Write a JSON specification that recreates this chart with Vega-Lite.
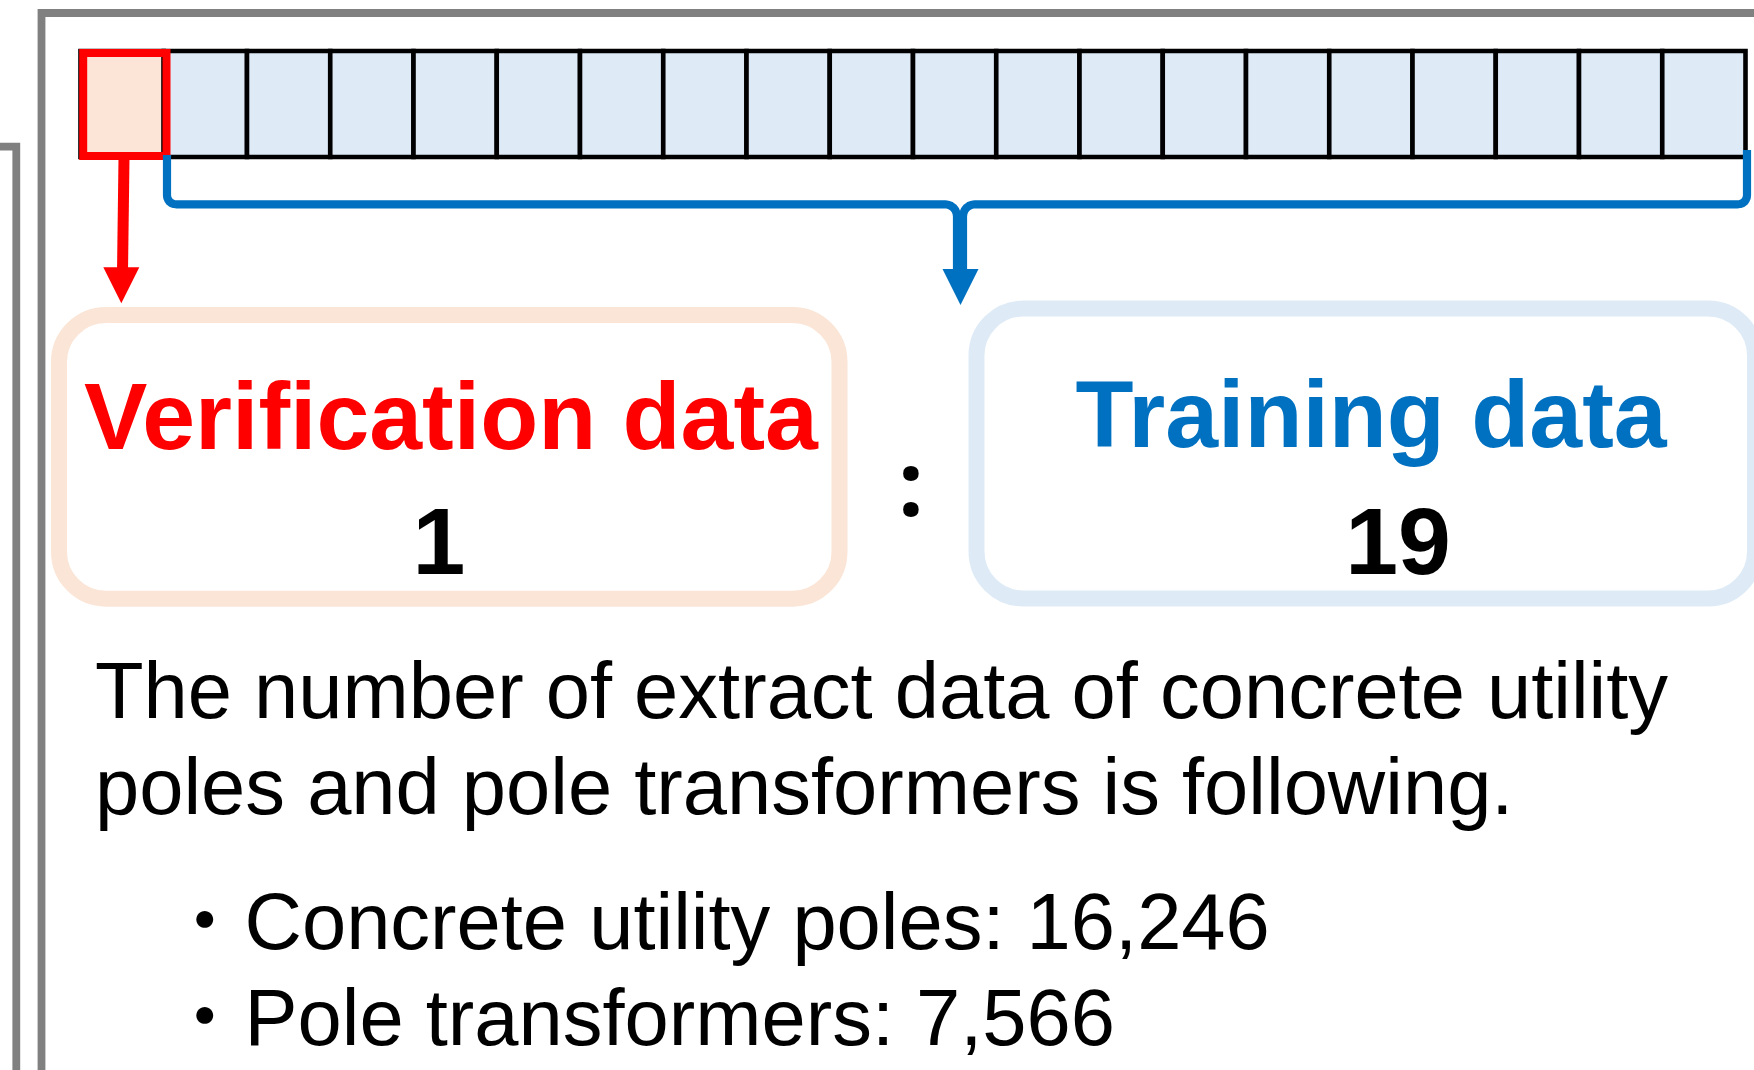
{
  "$schema": "https://vega.github.io/schema/vega-lite/v6.json",
  "width": 1754,
  "height": 1070,
  "padding": 0,
  "autosize": {"type": "none"},
  "background": "white",
  "config": {"view": {"stroke": null}},
  "resolve": {"scale": {"x": "independent"}},
  "layer": [
    {
      "data": {"values": [
        {"cell": 1, "set": "Verification"},
        {"cell": 2, "set": "Training"},
        {"cell": 3, "set": "Training"},
        {"cell": 4, "set": "Training"},
        {"cell": 5, "set": "Training"},
        {"cell": 6, "set": "Training"},
        {"cell": 7, "set": "Training"},
        {"cell": 8, "set": "Training"},
        {"cell": 9, "set": "Training"},
        {"cell": 10, "set": "Training"},
        {"cell": 11, "set": "Training"},
        {"cell": 12, "set": "Training"},
        {"cell": 13, "set": "Training"},
        {"cell": 14, "set": "Training"},
        {"cell": 15, "set": "Training"},
        {"cell": 16, "set": "Training"},
        {"cell": 17, "set": "Training"},
        {"cell": 18, "set": "Training"},
        {"cell": 19, "set": "Training"},
        {"cell": 20, "set": "Training"}
      ]},
      "mark": {"type": "rect", "stroke": "#000000", "strokeWidth": 4.6},
      "encoding": {
        "x": {"field": "cell", "type": "ordinal", "scale": {"type": "band", "paddingInner": 0, "paddingOuter": 0.5345, "align": 0.9045}, "axis": null},
        "y": {"datum": 51, "type": "quantitative", "scale": {"domain": [0, 1070], "reverse": true, "nice": false, "zero": false}, "axis": null},
        "y2": {"datum": 157},
        "fill": {"field": "set", "type": "nominal", "scale": {"domain": ["Verification", "Training"], "range": ["#FCE4D6", "#DEEBF7"]}, "legend": null}
      }
    },
    {
      "layer": [
        {
          "data": {"values": [
            {"part": "frame", "seq": 1, "x": 41.5, "y": 1085},
            {"part": "frame", "seq": 2, "x": 41.5, "y": 13},
            {"part": "frame", "seq": 3, "x": 1770, "y": 13},
            {"part": "bracket", "seq": 1, "x": -10, "y": 146.7},
            {"part": "bracket", "seq": 2, "x": 16.3, "y": 146.7},
            {"part": "bracket", "seq": 3, "x": 16.3, "y": 1085}
          ]},
          "mark": {"type": "line", "stroke": "#808080", "strokeWidth": 7.8, "strokeJoin": "miter", "strokeCap": "butt"},
          "encoding": {
            "x": {"field": "x", "type": "quantitative", "scale": {"domain": [0, 1754], "nice": false, "zero": false}, "axis": null},
            "y": {"field": "y", "type": "quantitative", "scale": {"domain": [0, 1070], "reverse": true, "nice": false, "zero": false}, "axis": null},
            "detail": {"field": "part"},
            "order": {"field": "seq", "type": "quantitative"}
          }
        },
        {
          "data": {"values": [
            {"box": "Verification", "x0": 59, "x1": 839.5, "y0": 315, "y1": 598.7},
            {"box": "Training", "x0": 976.5, "x1": 1755, "y0": 308.5, "y1": 598.5}
          ]},
          "mark": {"type": "rect", "fill": "#FFFFFF", "strokeWidth": 16, "cornerRadius": 47},
          "encoding": {
            "x": {"field": "x0", "type": "quantitative", "scale": {"domain": [0, 1754], "nice": false, "zero": false}, "axis": null},
            "x2": {"field": "x1"},
            "y": {"field": "y0", "type": "quantitative", "scale": {"domain": [0, 1070], "reverse": true, "nice": false, "zero": false}, "axis": null},
            "y2": {"field": "y1"},
            "stroke": {"field": "box", "type": "nominal", "scale": {"domain": ["Verification", "Training"], "range": ["#FBE5D6", "#DEEBF7"]}, "legend": null}
          }
        },
        {
          "data": {"values": [
            {"set": "Verification", "x0": 83.2, "x1": 166.5, "y0": 53, "y1": 156}
          ]},
          "mark": {"type": "rect", "fillOpacity": 0, "stroke": "#FF0000", "strokeWidth": 8},
          "encoding": {
            "x": {"field": "x0", "type": "quantitative", "scale": {"domain": [0, 1754], "nice": false, "zero": false}, "axis": null},
            "x2": {"field": "x1"},
            "y": {"field": "y0", "type": "quantitative", "scale": {"domain": [0, 1070], "reverse": true, "nice": false, "zero": false}, "axis": null},
            "y2": {"field": "y1"}
          }
        },
        {
          "data": {"values": [
            {"set": "Training", "part": "left", "seq": 1, "x": 167, "y": 155},
            {"set": "Training", "part": "left", "seq": 2, "x": 167, "y": 195.3},
            {"set": "Training", "part": "left", "seq": 3, "x": 167.3, "y": 197.6},
            {"set": "Training", "part": "left", "seq": 4, "x": 168.2, "y": 199.8},
            {"set": "Training", "part": "left", "seq": 5, "x": 169.6, "y": 201.7},
            {"set": "Training", "part": "left", "seq": 6, "x": 171.5, "y": 203.1},
            {"set": "Training", "part": "left", "seq": 7, "x": 173.7, "y": 204},
            {"set": "Training", "part": "left", "seq": 8, "x": 176, "y": 204.3},
            {"set": "Training", "part": "left", "seq": 9, "x": 945, "y": 204.3},
            {"set": "Training", "part": "left", "seq": 10, "x": 948.1, "y": 204.7},
            {"set": "Training", "part": "left", "seq": 11, "x": 951, "y": 205.9},
            {"set": "Training", "part": "left", "seq": 12, "x": 953.5, "y": 207.8},
            {"set": "Training", "part": "left", "seq": 13, "x": 955.4, "y": 210.3},
            {"set": "Training", "part": "left", "seq": 14, "x": 956.6, "y": 213.2},
            {"set": "Training", "part": "left", "seq": 15, "x": 957, "y": 216.3},
            {"set": "Training", "part": "left", "seq": 16, "x": 957, "y": 272},
            {"set": "Training", "part": "right", "seq": 1, "x": 1747, "y": 150},
            {"set": "Training", "part": "right", "seq": 2, "x": 1747, "y": 195.3},
            {"set": "Training", "part": "right", "seq": 3, "x": 1746.7, "y": 197.6},
            {"set": "Training", "part": "right", "seq": 4, "x": 1745.8, "y": 199.8},
            {"set": "Training", "part": "right", "seq": 5, "x": 1744.4, "y": 201.7},
            {"set": "Training", "part": "right", "seq": 6, "x": 1742.5, "y": 203.1},
            {"set": "Training", "part": "right", "seq": 7, "x": 1740.3, "y": 204},
            {"set": "Training", "part": "right", "seq": 8, "x": 1738, "y": 204.3},
            {"set": "Training", "part": "right", "seq": 9, "x": 975, "y": 204.3},
            {"set": "Training", "part": "right", "seq": 10, "x": 971.9, "y": 204.7},
            {"set": "Training", "part": "right", "seq": 11, "x": 969, "y": 205.9},
            {"set": "Training", "part": "right", "seq": 12, "x": 966.5, "y": 207.8},
            {"set": "Training", "part": "right", "seq": 13, "x": 964.6, "y": 210.3},
            {"set": "Training", "part": "right", "seq": 14, "x": 963.4, "y": 213.2},
            {"set": "Training", "part": "right", "seq": 15, "x": 963, "y": 216.3},
            {"set": "Training", "part": "right", "seq": 16, "x": 963, "y": 272}
          ]},
          "mark": {"type": "line", "strokeWidth": 8.2, "strokeJoin": "round", "strokeCap": "butt"},
          "encoding": {
            "x": {"field": "x", "type": "quantitative", "scale": {"domain": [0, 1754], "nice": false, "zero": false}, "axis": null},
            "y": {"field": "y", "type": "quantitative", "scale": {"domain": [0, 1070], "reverse": true, "nice": false, "zero": false}, "axis": null},
            "color": {"field": "set", "type": "nominal", "scale": {"domain": ["Verification", "Training"], "range": ["#FF0000", "#0070C0"]}, "legend": null},
            "detail": {"field": "part"},
            "order": {"field": "seq", "type": "quantitative"}
          }
        },
        {
          "data": {"values": [
            {"set": "Verification", "seq": 1, "x": 124, "y": 158},
            {"set": "Verification", "seq": 2, "x": 122.5, "y": 272}
          ]},
          "mark": {"type": "line", "strokeWidth": 11, "strokeCap": "butt"},
          "encoding": {
            "x": {"field": "x", "type": "quantitative", "scale": {"domain": [0, 1754], "nice": false, "zero": false}, "axis": null},
            "y": {"field": "y", "type": "quantitative", "scale": {"domain": [0, 1070], "reverse": true, "nice": false, "zero": false}, "axis": null},
            "color": {"field": "set", "type": "nominal", "scale": {"domain": ["Verification", "Training"], "range": ["#FF0000", "#0070C0"]}, "legend": null},
            "order": {"field": "seq", "type": "quantitative"}
          }
        },
        {
          "data": {"values": [
            {"set": "Verification", "x": 121.3, "y": 285.3},
            {"set": "Training", "x": 960.5, "y": 287}
          ]},
          "mark": {"type": "point", "shape": "M-1,-1L1,-1L0,1Z", "filled": true, "size": 1296, "opacity": 1, "strokeWidth": 0},
          "encoding": {
            "x": {"field": "x", "type": "quantitative", "scale": {"domain": [0, 1754], "nice": false, "zero": false}, "axis": null},
            "y": {"field": "y", "type": "quantitative", "scale": {"domain": [0, 1070], "reverse": true, "nice": false, "zero": false}, "axis": null},
            "color": {"field": "set", "type": "nominal", "scale": {"domain": ["Verification", "Training"], "range": ["#FF0000", "#0070C0"]}, "legend": null}
          }
        },
        {
          "data": {"values": [
            {"set": "Verification", "label": "Verification data", "x": 451, "y": 449},
            {"set": "Training", "label": "Training data", "x": 1371, "y": 447}
          ]},
          "mark": {"type": "text", "font": "Liberation Sans", "fontWeight": "bold", "fontSize": 95, "align": "center", "baseline": "alphabetic"},
          "encoding": {
            "x": {"field": "x", "type": "quantitative", "scale": {"domain": [0, 1754], "nice": false, "zero": false}, "axis": null},
            "y": {"field": "y", "type": "quantitative", "scale": {"domain": [0, 1070], "reverse": true, "nice": false, "zero": false}, "axis": null},
            "text": {"field": "label", "type": "nominal"},
            "color": {"field": "set", "type": "nominal", "scale": {"domain": ["Verification", "Training"], "range": ["#FF0000", "#0070C0"]}, "legend": null}
          }
        },
        {
          "data": {"values": [
            {"set": "Verification", "ratio": 1, "x": 439, "y": 574},
            {"set": "Training", "ratio": 19, "x": 1398, "y": 574}
          ]},
          "mark": {"type": "text", "font": "Liberation Sans", "fontWeight": "bold", "fontSize": 95, "align": "center", "baseline": "alphabetic", "color": "#000000"},
          "encoding": {
            "x": {"field": "x", "type": "quantitative", "scale": {"domain": [0, 1754], "nice": false, "zero": false}, "axis": null},
            "y": {"field": "y", "type": "quantitative", "scale": {"domain": [0, 1070], "reverse": true, "nice": false, "zero": false}, "axis": null},
            "text": {"field": "ratio", "type": "quantitative", "format": "d"}
          }
        },
        {
          "data": {"values": [
            {"sep": ":", "x": 911, "y": 516}
          ]},
          "mark": {"type": "text", "font": "Noto Sans", "fontWeight": "bold", "fontSize": 90, "align": "center", "baseline": "alphabetic", "color": "#000000"},
          "encoding": {
            "x": {"field": "x", "type": "quantitative", "scale": {"domain": [0, 1754], "nice": false, "zero": false}, "axis": null},
            "y": {"field": "y", "type": "quantitative", "scale": {"domain": [0, 1070], "reverse": true, "nice": false, "zero": false}, "axis": null},
            "text": {"field": "sep", "type": "nominal"}
          }
        },
        {
          "data": {"values": [
            {"line": 1, "text": "The number of extract data of concrete utility", "x": 95, "y": 718},
            {"line": 2, "text": "poles and pole transformers is following.", "x": 95, "y": 814},
            {"line": 3, "text": "・Concrete utility poles: 16,246", "x": 165, "y": 949},
            {"line": 4, "text": "・Pole transformers: 7,566", "x": 165, "y": 1045}
          ]},
          "mark": {"type": "text", "font": "Liberation Sans, Noto Sans CJK JP", "fontSize": 79.5, "align": "left", "baseline": "alphabetic", "color": "#000000"},
          "encoding": {
            "x": {"field": "x", "type": "quantitative", "scale": {"domain": [0, 1754], "nice": false, "zero": false}, "axis": null},
            "y": {"field": "y", "type": "quantitative", "scale": {"domain": [0, 1070], "reverse": true, "nice": false, "zero": false}, "axis": null},
            "text": {"field": "text", "type": "nominal"}
          }
        }
      ]
    }
  ]
}
